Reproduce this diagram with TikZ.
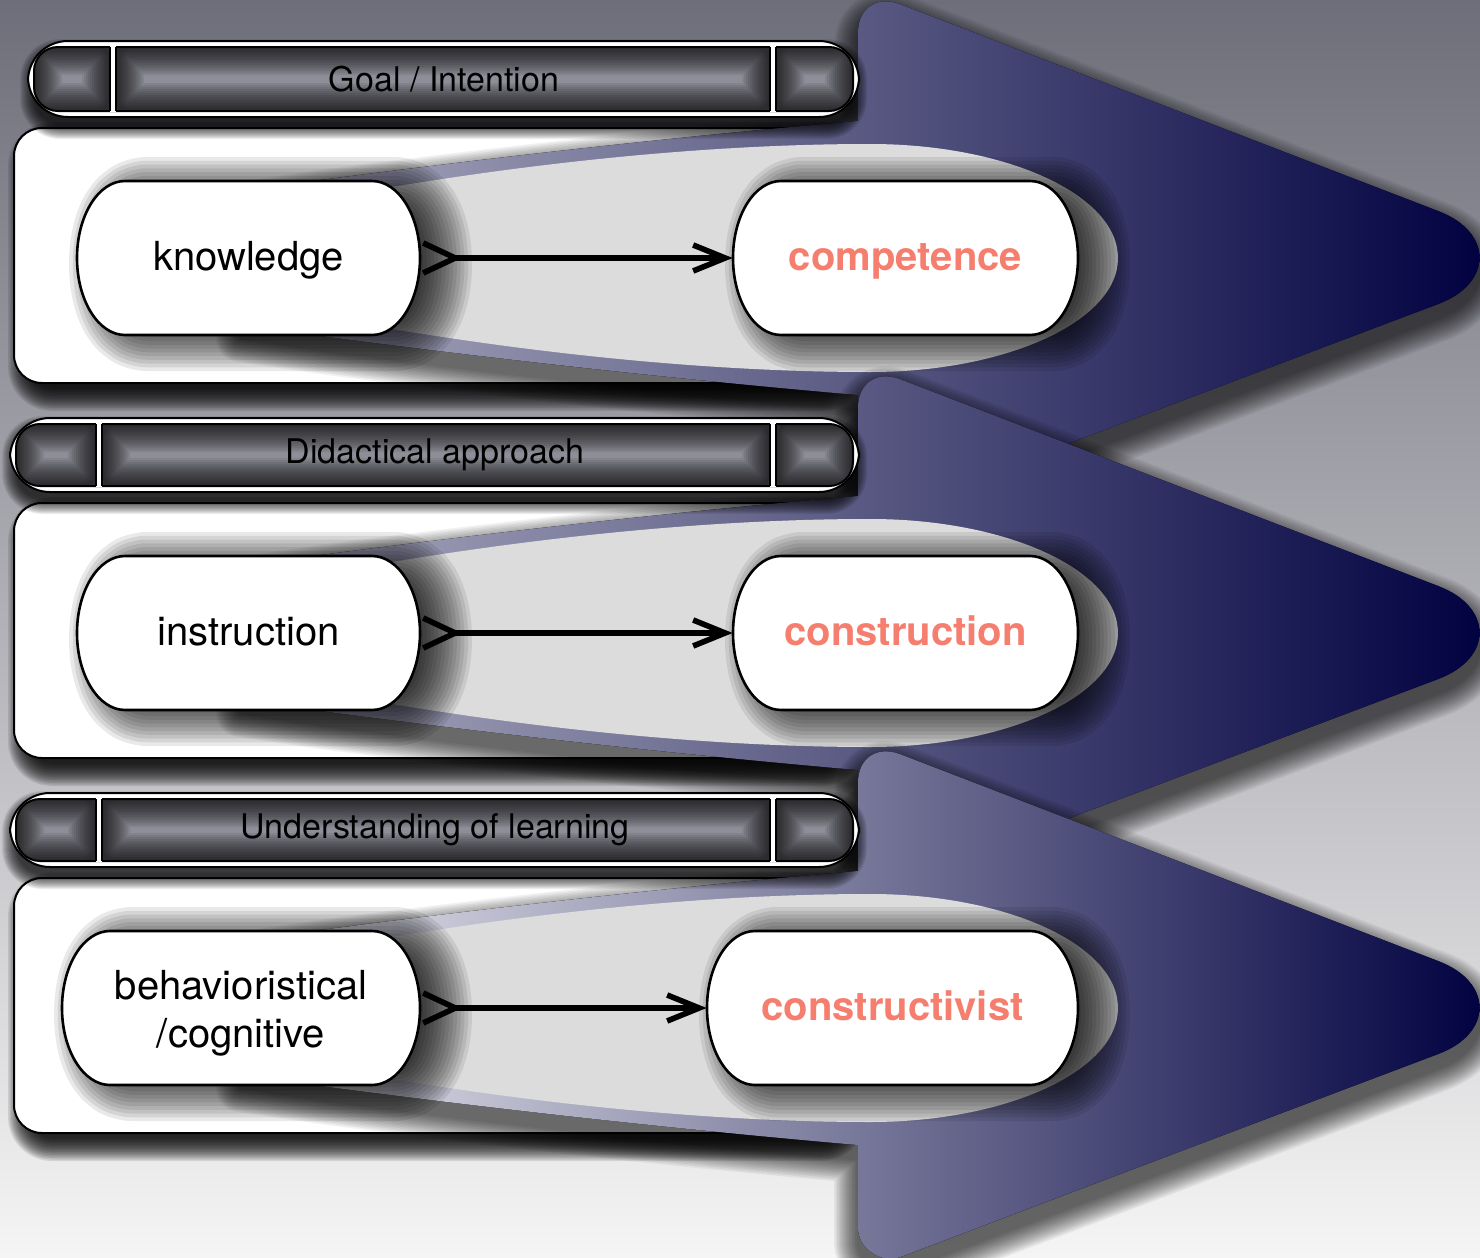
\documentclass[tikz,border=0pt]{standalone}
\usepackage{fontspec}
\setmainfont{TeX Gyre Heros}
\usetikzlibrary{arrows.meta}
\definecolor{salmontxt}{RGB}{245,126,110}
\definecolor{navytip}{RGB}{0,0,64}
\definecolor{lensgray}{RGB}{220,220,220}
\definecolor{cellgray}{RGB}{142,142,152}
\definecolor{bgtop}{RGB}{110,110,122}
\definecolor{bgmid}{RGB}{185,185,194}
\definecolor{bgbot}{RGB}{245,245,245}
\definecolor{arrAmid}{RGB}{94,94,128}
\definecolor{arrAleft}{RGB}{176,176,196}
\definecolor{arrBmid}{RGB}{128,128,158}
\definecolor{arrBleft}{RGB}{236,236,242}

% pill: x1 y1 x2 y2 rx ry
\newcommand\spill[6]{(#1+#5,#2) -- (#3-#5,#2) arc[start angle=270,end angle=450,x radius=#5,y radius=#6] -- (#1+#5,#4) arc[start angle=90,end angle=270,x radius=#5,y radius=#6] -- cycle}
\newcommand\pill[4]{\spill{#1}{#2}{#3}{#4}{48}{77}}
% shadow pill: inset by 30
\newcommand\shpill[4]{\spill{#1+30}{#2+30}{#3-30}{#4-30}{18}{47}}
\newcommand\arrowshape{(858,-137) -- (858,-225) .. controls (858,-249.8) and (876.9,-262.7) .. (900,-253.8) -- (1438.7,-46.7) .. controls (1493.3,-25.7) and (1493.1,25.2) .. (1438.4,45.9) -- (900.1,249.1) .. controls (881.2,256.3) and (858,240.3) .. (858,220) -- (858,137) .. controls (640,118) and (450,95) .. (321,78) -- (240,66) -- (240,-66) -- (321,-78) .. controls (450,-95) and (640,-118) .. (858,-137) -- cycle}
\newcommand\lensshape{(330,-60) .. controls (480,-88) and (680,-114) .. (870,-114) arc[start angle=270,end angle=450,x radius=248,y radius=114] .. controls (680,114) and (480,88) .. (330,60) -- cycle}

% blurred shadow: dx dy radius(px) alpha path
\newcommand\softshadow[5]{%
  \foreach \kk in {1,...,16}{%
    \begin{scope}[transparency group, opacity=#4, shift={(#1,#2)}]
      \pgfmathsetmacro\lw{#3*\kk/16}%
      \filldraw[black, line width=\lw pt, line join=round] #5;
    \end{scope}}}

\newcommand\cellglow[4]{%
  \begin{scope}
    \clip (#1,#2) rectangle (#3,#4);
    \foreach \kk in {1,...,14}{\draw[black, opacity=0.075, line width={2pt*\kk}, rounded corners=6] (#1,#2) rectangle (#3,#4);}
  \end{scope}}

\newcommand\headerbar[7]{%
  \softshadow{0}{6}{16}{0.07}{[rounded corners=12] (#1+8,#2+8) rectangle (851,-141)}
  \filldraw[white, draw=black, line width=1pt, rounded corners=20] (#1,#2) rectangle (859,-141);
  \begin{scope}
    \clip[rounded corners=12] (#1+6,#2+6) rectangle (853,-147);
    \fill[cellgray] (#1+6,#2+6) rectangle (853,-147);
    \cellglow{#1+6}{#2+6}{#3}{-147}
    \cellglow{#3+6}{#2+6}{#4}{-147}
    \cellglow{#4+6}{#2+6}{853}{-147}
  \end{scope}
  \draw[black, line width=1pt, rounded corners=12] (#1+6,#2+6) rectangle (853,-147);
  \fill[white] (#3,#2+5) rectangle (#3+6,-146);
  \fill[white] (#4,#2+5) rectangle (#4+6,-146);
  \draw[black, line width=1pt] (#3,#2+6) -- (#3,-147) (#3+6,#2+6) -- (#3+6,-147) (#4,#2+6) -- (#4,-147) (#4+6,#2+6) -- (#4+6,-147);
  \node[hdr] (#7) at (#5, {(#2-141)/2}) {#6};
}

\tikzset{
  hdr/.style={font=\fontsize{17}{20}\selectfont, text=black, inner sep=0pt},
  lbl/.style={font=\fontsize{20}{24}\selectfont, text=black, inner sep=0pt, minimum height=77pt, align=center},
  one line/.style={text height=16.5pt, text depth=4pt},
  red lbl/.style={lbl, one line, font=\fontsize{20}{24}\selectfont\bfseries, text=salmontxt},
  nodefill/.style={fill=white, draw=black, line width=1.3pt},
  conn/.style={draw=black, line width=2.8pt, {Straight Barb[reversed,length=16pt,width=15pt]}-{Straight Barb[length=16pt,width=13pt]}},
  panel/.style={fill=white, draw=black, line width=1pt, rounded corners=14}
}

\begin{document}
\begin{tikzpicture}[x=0.5pt, y=-0.5pt]
\useasboundingbox (0,0) rectangle (1480,1258);
\fill[top color=bgtop, middle color=bgmid, bottom color=bgbot] (0,0) rectangle (1480,1258);

% ---------- section 1
\begin{scope}[shift={(0,258)}]
  \softshadow{0}{0}{24}{0.1}{[rounded corners=10] (32,-112) rectangle (842,129)}
  \path[panel] (14,-130) rectangle (858,125);
  \softshadow{0}{14}{24}{0.05}{\arrowshape}
  \fill[left color=arrAleft, middle color=arrAmid, right color=navytip] \arrowshape;
  \fill[lensgray] \lensshape;
  \headerbar{28}{-217}{110}{770}{444}{Goal / Intention}{h1}
  \softshadow{22}{6}{60}{0.085}{\shpill{77}{-77}{420}{77}}
  \softshadow{22}{6}{60}{0.085}{\shpill{733}{-77}{1078}{77}}
  \path[nodefill] \pill{77}{-77}{420}{77};
  \path[nodefill] \pill{733}{-77}{1078}{77};
  \node[lbl, one line, minimum width=171.5pt] (k1) at (248.5,0) {knowledge};
  \node[red lbl, minimum width=172.5pt] (c1) at (905.5,0) {competence};
  \draw[conn] (k1.east) -- (c1.west);
\end{scope}

% ---------- section 2
\begin{scope}[shift={(0,633)}]
  \softshadow{0}{0}{24}{0.1}{[rounded corners=10] (32,-112) rectangle (842,129)}
  \path[panel] (14,-130) rectangle (858,125);
  \softshadow{0}{14}{24}{0.05}{\arrowshape}
  \fill[left color=arrAleft, middle color=arrAmid, right color=navytip] \arrowshape;
  \fill[lensgray] \lensshape;
  \headerbar{10}{-215}{96}{770}{435}{Didactical approach}{h2}
  \softshadow{22}{6}{60}{0.085}{\shpill{77}{-77}{420}{77}}
  \softshadow{22}{6}{60}{0.085}{\shpill{733}{-77}{1078}{77}}
  \path[nodefill] \pill{77}{-77}{420}{77};
  \path[nodefill] \pill{733}{-77}{1078}{77};
  \node[lbl, one line, minimum width=171.5pt] (k2) at (248.5,0) {instruction};
  \node[red lbl, minimum width=172.5pt] (c2) at (905.5,0) {construction};
  \draw[conn] (k2.east) -- (c2.west);
\end{scope}

% ---------- section 3
\begin{scope}[shift={(0,1008)}]
  \softshadow{0}{0}{24}{0.1}{[rounded corners=10] (32,-112) rectangle (842,129)}
  \path[panel] (14,-130) rectangle (858,125);
  \softshadow{0}{14}{24}{0.05}{\arrowshape}
  \fill[left color=arrBleft, middle color=arrBmid, right color=navytip] \arrowshape;
  \fill[lensgray] \lensshape;
  \headerbar{10}{-215}{96}{770}{435}{Understanding of learning}{h3}
  \softshadow{22}{6}{60}{0.085}{\shpill{62}{-77}{420}{77}}
  \softshadow{22}{6}{60}{0.085}{\shpill{707}{-77}{1078}{77}}
  \path[nodefill] \pill{62}{-77}{420}{77};
  \path[nodefill] \pill{707}{-77}{1078}{77};
  \node[lbl, minimum width=179pt] (k3) at (241,0) {\rule{0pt}{0pt}\\[-4pt]behavioristical\\/cognitive};
  \node[red lbl, minimum width=185.5pt] (c3) at (892.5,0) {constructivist};
  \draw[conn] (k3.east) -- (c3.west);
\end{scope}
\end{tikzpicture}
\end{document}
